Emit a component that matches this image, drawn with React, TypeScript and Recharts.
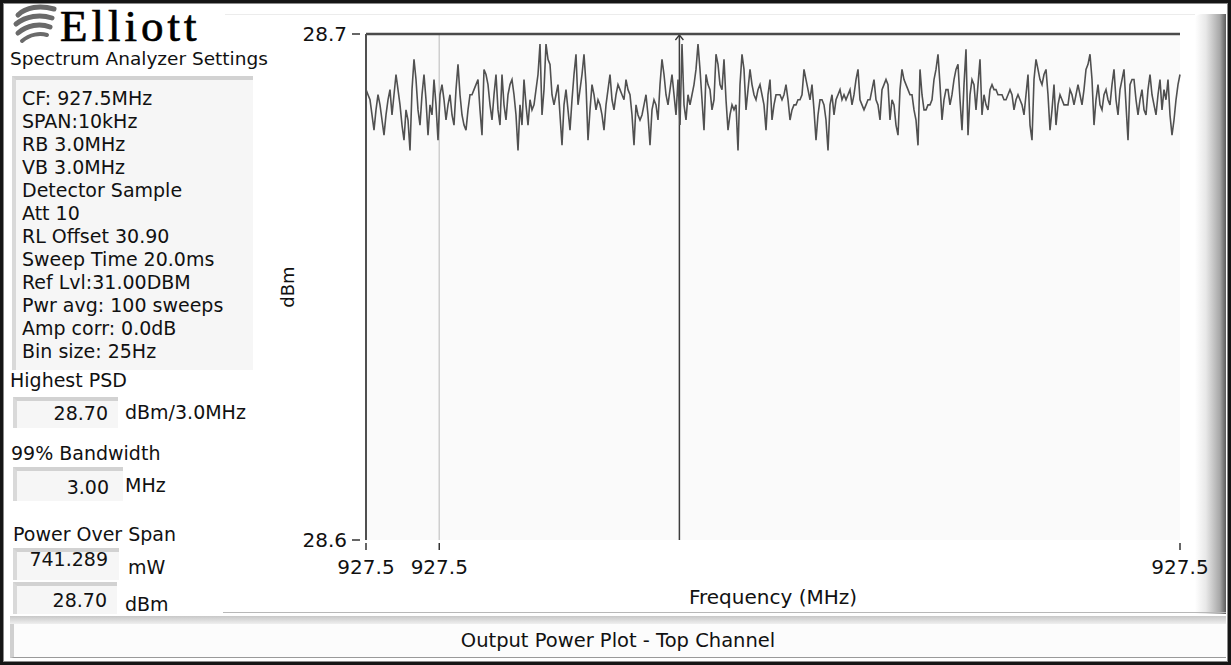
import React from 'react';
import { LineChart, Line, XAxis, YAxis, CartesianGrid, ReferenceLine, Label } from 'recharts';

// Spectrum trace (dBm), one reading per 25 Hz bin, split into five runs across the span
const TRACE_RUN_1 = [
  28.689, 28.688, 28.687, 28.684, 28.681, 28.685, 28.688, 28.686, 28.683, 28.680,
  28.684, 28.687, 28.689, 28.684, 28.688, 28.692, 28.689, 28.686, 28.682, 28.679,
  28.685, 28.683, 28.677, 28.689, 28.695, 28.691, 28.685, 28.682, 28.688, 28.692,
  28.687, 28.680, 28.686, 28.684, 28.691, 28.686, 28.679, 28.688, 28.690, 28.687,
  28.683, 28.686, 28.688, 28.684, 28.682, 28.689, 28.694, 28.688, 28.684, 28.682,
  28.681, 28.685, 28.688, 28.688, 28.689, 28.690, 28.691, 28.685, 28.680, 28.693,
  28.692, 28.690, 28.686, 28.683, 28.688, 28.692, 28.685, 28.682, 28.692, 28.686,
  28.683, 28.688, 28.690, 28.691, 28.688, 28.684, 28.677, 28.686, 28.682, 28.691, 28.686,
];
const TRACE_RUN_2 = [
  28.682, 28.687, 28.685, 28.686, 28.689, 28.692, 28.698, 28.684, 28.689, 28.698,
  28.695, 28.694, 28.688, 28.686, 28.688, 28.690, 28.684, 28.678, 28.686, 28.689,
  28.685, 28.681, 28.687, 28.692, 28.696, 28.686, 28.689, 28.692, 28.696, 28.690,
  28.679, 28.685, 28.690, 28.688, 28.685, 28.687, 28.686, 28.684, 28.681, 28.686,
  28.689, 28.692, 28.687, 28.685, 28.688, 28.690, 28.689, 28.688, 28.687, 28.691,
  28.689, 28.688, 28.684, 28.678, 28.686, 28.684, 28.683, 28.684, 28.686, 28.688,
  28.684, 28.678, 28.685, 28.687, 28.686, 28.683, 28.690, 28.695, 28.692, 28.688,
  28.686, 28.689, 28.692, 28.688, 28.684, 28.691, 28.682, 28.698, 28.686, 28.683, 28.688,
];
const TRACE_RUN_3 = [
  28.686, 28.688, 28.690, 28.693, 28.698, 28.693, 28.687, 28.681, 28.692, 28.690,
  28.689, 28.685, 28.687, 28.696, 28.694, 28.690, 28.689, 28.695, 28.687, 28.681,
  28.684, 28.686, 28.685, 28.686, 28.677, 28.690, 28.696, 28.693, 28.685, 28.689,
  28.693, 28.690, 28.688, 28.687, 28.689, 28.690, 28.688, 28.686, 28.681, 28.688,
  28.691, 28.683, 28.686, 28.688, 28.688, 28.688, 28.687, 28.688, 28.690, 28.687,
  28.683, 28.685, 28.686, 28.686, 28.687, 28.687, 28.688, 28.693, 28.691, 28.689,
  28.687, 28.690, 28.685, 28.679, 28.684, 28.687, 28.687, 28.686, 28.683, 28.677,
  28.686, 28.688, 28.684, 28.687, 28.688, 28.689, 28.687, 28.688, 28.687, 28.688,
  28.689, 28.686,
];
const TRACE_RUN_4 = [
  28.688, 28.691, 28.693, 28.687, 28.686, 28.685, 28.686, 28.687, 28.687, 28.689,
  28.691, 28.687, 28.686, 28.683, 28.689, 28.690, 28.691, 28.690, 28.683, 28.687,
  28.686, 28.682, 28.680, 28.689, 28.693, 28.691, 28.690, 28.689, 28.688, 28.688,
  28.685, 28.683, 28.678, 28.693, 28.688, 28.685, 28.685, 28.686, 28.686, 28.687,
  28.691, 28.693, 28.696, 28.690, 28.683, 28.687, 28.689, 28.689, 28.686, 28.688,
  28.691, 28.693, 28.694, 28.687, 28.681, 28.690, 28.697, 28.680, 28.688, 28.691,
  28.690, 28.685, 28.690, 28.695, 28.684, 28.688, 28.686, 28.685, 28.689, 28.690,
  28.689, 28.689, 28.688, 28.688, 28.688, 28.687, 28.687, 28.688, 28.689, 28.688, 28.685,
];
const TRACE_RUN_5 = [
  28.687, 28.688, 28.687, 28.686, 28.684, 28.688, 28.692, 28.682, 28.679, 28.691,
  28.695, 28.693, 28.691, 28.690, 28.692, 28.693, 28.688, 28.681, 28.685, 28.690,
  28.682, 28.686, 28.688, 28.687, 28.686, 28.686, 28.686, 28.689, 28.688, 28.686,
  28.688, 28.690, 28.688, 28.686, 28.689, 28.693, 28.694, 28.696, 28.691, 28.682,
  28.687, 28.690, 28.686, 28.685, 28.688, 28.689, 28.687, 28.686, 28.690, 28.693,
  28.687, 28.684, 28.689, 28.691, 28.693, 28.686, 28.679, 28.690, 28.691, 28.691,
  28.687, 28.684, 28.687, 28.689, 28.685, 28.684, 28.689, 28.692, 28.688, 28.686,
  28.684, 28.688, 28.691, 28.685, 28.689, 28.687, 28.691, 28.684, 28.680, 28.683,
  28.687, 28.690, 28.692,
];

// Sweep span (MHz) and axis ticks
const START_MHZ = 927.495;
const STOP_MHZ = 927.505;
const X_TICKS = [927.495, 927.4959, 927.505];
const Y_TICKS = [28.6, 28.7];
const Y_DOMAIN: [number, number] = [28.6, 28.7];
const CURSOR_MHZ = 927.4959;
const MARKER_MHZ = 927.49885;
const PEAK_LINE_DBM = 28.7;

// Analyzer settings readout
const SETTINGS = [
  'CF: 927.5MHz',
  'SPAN:10kHz',
  'RB 3.0MHz',
  'VB 3.0MHz',
  'Detector Sample',
  'Att 10',
  'RL Offset 30.90',
  'Sweep Time 20.0ms',
  'Ref Lvl:31.00DBM',
  'Pwr avg: 100 sweeps',
  'Amp corr: 0.0dB',
  'Bin size: 25Hz',
];

const traceValues = [...TRACE_RUN_1, ...TRACE_RUN_2, ...TRACE_RUN_3, ...TRACE_RUN_4, ...TRACE_RUN_5];
const stepMHz = (STOP_MHZ - START_MHZ) / (traceValues.length - 1);
const data = traceValues.map((dbm, i) => ({ mhz: START_MHZ + i * stepMHz, dbm }));

const FONT = '"DejaVu Sans", Verdana, sans-serif';
const INK = '#111';

type TextProps = { x: number; cy: number; size?: number; lh?: number; children: React.ReactNode; right?: number };

function Txt({ x, cy, size = 19, lh = 24, children, right }: TextProps) {
  const style: React.CSSProperties = {
    position: 'absolute',
    top: cy - lh / 2,
    height: lh,
    lineHeight: `${lh}px`,
    fontSize: size,
    fontFamily: FONT,
    color: INK,
    whiteSpace: 'nowrap',
  };
  style.left = x;
  if (right !== undefined) {
    style.width = right - x;
    style.textAlign = 'right';
  }
  return <div style={style}>{children}</div>;
}

function Well({ x, y, w, h }: { x: number; y: number; w: number; h: number }) {
  return (
    <div
      style={{
        position: 'absolute',
        left: x,
        top: y,
        width: w,
        height: h,
        boxSizing: 'border-box',
        background: '#f6f6f6',
        borderTop: '4px solid #d2d2d2',
        borderLeft: '4px solid #d9d9d9',
      }}
    />
  );
}

function XTick(props: any) {
  const { x, y, payload } = props;
  return (
    <g>
      <line x1={x} x2={x} y1={y + 3} y2={y + 10} stroke="#333" strokeWidth={1.5} />
      <text x={x} y={y + 27} textAnchor="middle" dominantBaseline="central" fontSize={20} fontFamily={FONT} fill={INK}>
        {Number(payload.value).toFixed(1)}
      </text>
    </g>
  );
}

function YTick(props: any) {
  const { x, y, payload } = props;
  return (
    <g>
      <line x1={x - 14} x2={x - 6} y1={y} y2={y} stroke="#333" strokeWidth={1.5} />
      <text x={x - 19} y={y} textAnchor="end" dominantBaseline="central" fontSize={20} fontFamily={FONT} fill={INK}>
        {Number(payload.value).toFixed(1)}
      </text>
    </g>
  );
}

function MarkerArrow(props: any) {
  const vb = props.viewBox || {};
  const x = vb.x ?? 0;
  const y = vb.y ?? 0;
  return <path d={`M${x - 4},${y + 6} L${x},${y + 1} L${x + 4},${y + 6}`} fill="none" stroke="#333" strokeWidth={1.3} />;
}

function Logo() {
  return (
    <svg width={260} height={52} style={{ position: 'absolute', left: 0, top: 0 }}>
      <g fill="none" stroke="#6a6a6a" strokeLinecap="round">
        <path d="M18,15 C26,7 40,5 54,9" strokeWidth={5} />
        <path d="M16,24 C26,16 40,14 52,18" strokeWidth={5} />
        <path d="M18,33 C27,25 40,23 50,27" strokeWidth={5} />
        <path d="M22,41 C30,34 40,33 47,35" strokeWidth={4} />
      </g>
      <text
        x={60}
        y={41}
        fontFamily='"Liberation Serif", "Times New Roman", serif'
        fontSize={45}
        letterSpacing={4}
        fill="#000"
        stroke="#000"
        strokeWidth={0.7}
      >
        Elliott
      </text>
    </svg>
  );
}

export default function App() {
  return (
    <div style={{ position: 'fixed', left: 0, top: 0, width: 1231, height: 665, background: '#fff', overflow: 'hidden' }}>
      <Logo />
      <Txt x={10} cy={59} size={18.5}>Spectrum Analyzer Settings</Txt>

      {/* settings readout */}
      <Well x={12} y={76} w={241} h={294} />
      {SETTINGS.map((s, i) => (
        <Txt key={s} x={22} cy={98 + i * 23} lh={23}>
          {s}
        </Txt>
      ))}

      {/* result readouts */}
      <Txt x={10} cy={380}>Highest PSD</Txt>
      <Well x={13} y={397} w={105} h={31} />
      <Txt x={20} cy={413} right={108}>28.70</Txt>
      <Txt x={125} cy={412}>dBm/3.0MHz</Txt>

      <Txt x={11} cy={453}>99% Bandwidth</Txt>
      <Well x={13} y={467} w={110} h={34} />
      <Txt x={20} cy={487} right={109}>3.00</Txt>
      <Txt x={125} cy={485}>MHz</Txt>

      <Txt x={13} cy={534}>Power Over Span</Txt>
      <Well x={13} y={548} w={106} h={32} />
      <Txt x={20} cy={559} right={108}>741.289</Txt>
      <Txt x={128} cy={567}>mW</Txt>
      <Well x={13} y={582} w={104} h={32} />
      <Txt x={20} cy={600} right={107}>28.70</Txt>
      <Txt x={125} cy={604}>dBm</Txt>

      {/* right bevel of the plot panel, behind the chart */}
      <div
        style={{
          position: 'absolute',
          left: 1195,
          top: 14,
          width: 31,
          height: 600,
          background: 'linear-gradient(to right, #ffffff 0%, #e8e8e8 35%, #a8a8a8 80%, #5a5a5a 100%)',
          borderTopLeftRadius: 6,
        }}
      />
      <div style={{ position: 'absolute', left: 225, top: 14, width: 970, height: 1, background: '#ececec' }} />
      <div style={{ position: 'absolute', left: 223, top: 612, width: 1003, height: 1, background: '#b8b8b8' }} />

      {/* plot panel */}
      <div style={{ position: 'absolute', left: 225, top: 14, width: 1000, height: 598 }}>
        <LineChart width={1000} height={598} data={data} margin={{ top: 20, right: 45, left: 0, bottom: 0 }}>
          <CartesianGrid horizontal={false} vertical={false} fill="#fafafa" />
          <XAxis
            dataKey="mhz"
            type="number"
            domain={[START_MHZ, STOP_MHZ]}
            ticks={X_TICKS}
            interval={0}
            height={72}
            axisLine={false}
            tickLine={false}
            tickSize={0}
            tickMargin={0}
            tick={<XTick />}
          >
            <Label
              content={(p: any) => (
                <text
                  x={p.viewBox.x + p.viewBox.width / 2}
                  y={p.viewBox.y + 57}
                  textAnchor="middle"
                  dominantBaseline="central"
                  fontSize={20}
                  fontFamily={FONT}
                  fill={INK}
                >
                  Frequency (MHz)
                </text>
              )}
            />
          </XAxis>
          <YAxis
            type="number"
            domain={Y_DOMAIN}
            ticks={Y_TICKS}
            interval={0}
            width={141}
            allowDataOverflow
            axisLine={{ stroke: '#505050', strokeWidth: 2 }}
            tickLine={false}
            tickSize={0}
            tickMargin={0}
            tick={<YTick />}
          >
            <Label
              content={(p: any) => {
                const cx = p.viewBox.x + 62;
                const cy = p.viewBox.y + p.viewBox.height / 2;
                return (
                  <text
                    x={cx}
                    y={cy}
                    transform={`rotate(-90 ${cx} ${cy})`}
                    textAnchor="middle"
                    dominantBaseline="central"
                    fontSize={18}
                    fontFamily={FONT}
                    fill={INK}
                  >
                    dBm
                  </text>
                );
              }}
            />
          </YAxis>
          <ReferenceLine x={CURSOR_MHZ} stroke="#cfcfcf" strokeWidth={1.5} />
          <ReferenceLine x={MARKER_MHZ} stroke="#3c3c3c" strokeWidth={1.5} label={<MarkerArrow />} />
          <ReferenceLine y={PEAK_LINE_DBM} stroke="#4a4a4a" strokeWidth={2.5} />
          <Line
            type="linear"
            dataKey="dbm"
            stroke="#505050"
            strokeWidth={1.6}
            dot={false}
            isAnimationActive={false}
          />
        </LineChart>
      </div>

      {/* caption bar */}
      <div
        style={{
          position: 'absolute',
          left: 10,
          top: 616,
          width: 1216,
          height: 8,
          background: 'linear-gradient(to bottom, #c8c8c8, #efefef)',
        }}
      />
      <div
        style={{
          position: 'absolute',
          left: 10,
          top: 624,
          width: 1216,
          height: 34,
          boxSizing: 'border-box',
          background: '#fcfcfc',
          borderLeft: '4px solid #d0d0d0',
          borderBottom: '1px solid #9a9a9a',
        }}
      />
      <div
        style={{
          position: 'absolute',
          left: 10,
          top: 629,
          width: 1216,
          height: 24,
          lineHeight: '24px',
          textAlign: 'center',
          fontFamily: FONT,
          fontSize: 19.5,
          color: INK,
        }}
      >
        Output Power Plot - Top Channel
      </div>

      {/* window frame */}
      <div
        style={{
          position: 'absolute',
          left: 0,
          top: 0,
          width: 1231,
          height: 665,
          boxSizing: 'border-box',
          border: '3px solid #151515',
          boxShadow: 'inset 0 0 0 1px #8a8a8a',
          pointerEvents: 'none',
        }}
      />
    </div>
  );
}
